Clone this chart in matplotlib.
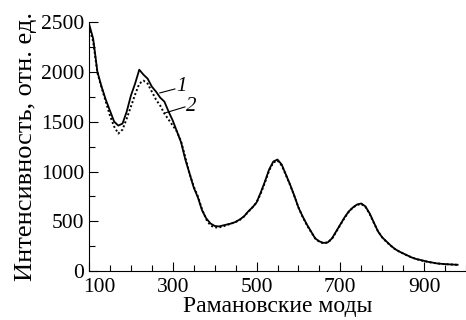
import matplotlib
matplotlib.use('Agg')
import matplotlib.pyplot as plt
from matplotlib.ticker import MultipleLocator, FixedLocator, FuncFormatter

plt.rcParams['font.family'] = 'Liberation Serif'
plt.rcParams['xtick.direction'] = 'in'
plt.rcParams['ytick.direction'] = 'in'

# Рамановские моды
x = list(range(100, 990, 10))

# кривая 1 (сплошная)
y1 = [2480, 2330, 2000, 1850, 1720, 1610, 1500, 1460, 1480, 1600,
      1760, 1880, 2020, 1970, 1930, 1850, 1800, 1740, 1700, 1600,
      1510, 1400, 1290, 1120, 980, 840, 740, 610, 530, 480,
      455, 450, 460, 470, 480, 495, 520, 550, 600, 640,
      690, 790, 900, 1020, 1100, 1120, 1070, 970, 870, 760,
      640, 550, 470, 400, 330, 300, 285, 290, 330, 400,
      470, 540, 600, 640, 670, 680, 650, 580, 490, 400,
      340, 300, 260, 225, 200, 180, 160, 140, 125, 115,
      105, 95, 88, 80, 76, 73, 70, 68, 66]

# кривая 2 (пунктир)
y2 = [2450, 2300, 1990, 1840, 1700, 1560, 1450, 1380, 1420, 1530,
      1650, 1770, 1880, 1910, 1880, 1800, 1720, 1660, 1580, 1520,
      1460, 1400, 1300, 1140, 980, 850, 750, 620, 520, 460,
      440, 440, 450, 465, 480, 495, 515, 550, 595, 640,
      690, 780, 890, 1010, 1090, 1110, 1060, 965, 865, 755,
      640, 545, 465, 395, 330, 295, 280, 290, 325, 395,
      465, 535, 595, 640, 665, 675, 645, 575, 485, 400,
      340, 295, 258, 225, 200, 178, 158, 140, 125, 113,
      103, 94, 86, 80, 75, 72, 70, 67, 65]

xticks = [100, 300, 500, 700, 900]

fig = plt.figure(figsize=(4.66, 3.2), dpi=100)
ax = fig.add_axes([0.191, 0.152, 0.809, 0.78])

ax.plot(x, y1, color='black', lw=1.3)
ax.plot(x, y2, color='black', lw=1.4, linestyle=(0, (1, 1.2)))

# подписи кривых
ax.plot([269, 305], [1787, 1827], color='black', lw=0.8)
ax.plot([281, 329], [1586, 1647], color='black', lw=0.8)
ax.text(308, 1850, '1', fontsize=15, style='italic', va='center')
ax.text(332, 1655, '2', fontsize=15, style='italic', va='center')

ax.set_xlim(100, 1000)
ax.set_ylim(0, 2500)
ax.xaxis.set_major_locator(FixedLocator(xticks))
ax.xaxis.set_minor_locator(MultipleLocator(50))
ax.yaxis.set_major_locator(MultipleLocator(500))
ax.yaxis.set_minor_locator(MultipleLocator(250))
# первая метка "100" сдвинута вправо, чтобы не наезжать на "0"
ax.xaxis.set_major_formatter(FuncFormatter(lambda v, p: '' if v == xticks[0] else '%d' % v))
ax.annotate(str(xticks[0]), xy=(xticks[0], 0), xycoords=('data', 'axes fraction'),
            xytext=(7.5, -5), textcoords='offset points', ha='center', va='top',
            fontsize=15.5)
ax.tick_params(which='major', length=6.5, width=0.8, labelsize=15.5)
ax.tick_params(which='minor', length=4.5, width=0.8)
ax.tick_params(axis='x', pad=5)
ax.spines['top'].set_visible(False)
ax.spines['right'].set_visible(False)

ax.set_xlabel('Рамановские моды', fontsize=17, labelpad=-1)
ax.set_ylabel('Интенсивность, отн. ед.', fontsize=19, labelpad=3)

plt.savefig('out.png', dpi=100)
